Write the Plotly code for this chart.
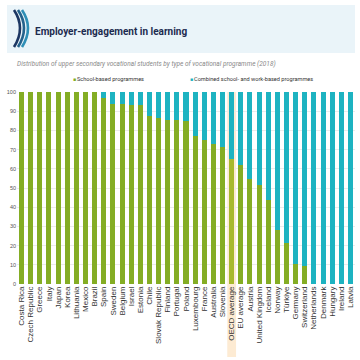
import plotly.graph_objects as go

countries = ["Costa Rica", "Czech Republic", "Greece", "Italy", "Japan", "Korea", "Lithuania",
             "Mexico", "Brazil", "Spain", "Sweden", "Belgium", "Israel", "Estonia", "Chile",
             "Slovak Republic", "Finland", "Portugal", "Poland", "Luxembourg", "France",
             "Australia", "Slovenia", "OECD average", "EU average", "Austria", "United Kingdom",
             "Iceland", "Norway", "Türkiye", "Germany", "Switzerland", "Netherlands", "Denmark",
             "Hungary", "Ireland", "Latvia"]
school_based = [100, 100, 100, 100, 100, 100, 100, 100, 100, 97, 94, 93.5, 93, 93, 87.5,
                86.5, 85.5, 85.5, 85, 77, 74.8, 73, 71.4, 65, 61.8, 54.5, 51.5, 44, 28,
                21.6, 10.4, 9.2, 0, 0, 0, 0, 0]
combined = [round(100 - v, 1) for v in school_based]

GREEN = "#84ad24"
GREEN_HL = "#a7b92e"
TEAL = "#1db3c1"

# plot area in pixels
L, R, T, B = 17, 5, 92, 76
W = H = 360
PW, PH = W - L - R, H - T - B


def px(x, y):
    return (x - L) / PW, (H - B - y) / PH


green_colors = [GREEN_HL if c == "OECD average" else GREEN for c in countries]

fig = go.Figure()
fig.add_trace(go.Bar(x=countries, y=school_based, name="School-based programmes",
                     marker=dict(color=green_colors, line=dict(width=0)), showlegend=False))
fig.add_trace(go.Bar(x=countries, y=combined, name="Combined school- and work-based programmes",
                     marker=dict(color=TEAL, line=dict(width=0)), showlegend=False))

shapes = []
# header band
x0, y0 = px(7, 53)
x1, y1 = px(355, 5)
shapes.append(dict(type="rect", xref="paper", yref="paper", x0=x0, y0=y0, x1=x1, y1=y1,
                   fillcolor="#eaf4f9", line=dict(width=0), layer="below"))
# OECD highlight band
idx = countries.index("OECD average")
n = len(countries)
shapes.append(dict(type="rect", xref="paper", yref="paper",
                   x0=(idx + 0.02) / n, x1=(idx + 0.98) / n,
                   y0=px(0, 357)[1], y1=px(0, 92)[1],
                   fillcolor="#fde6c8", opacity=0.8, line=dict(width=0), layer="below"))
# logo strokes
logo_cols = ["#1d3763", "#25628c", "#2f8fb6"]
for k, off in enumerate([0, 4, 8]):
    sx, sy = px(14 + off, 10)
    cx, cy = px(26 + off, 28)
    ex, ey = px(14 + off, 47)
    shapes.append(dict(type="path", xref="paper", yref="paper",
                       path=f"M {sx},{sy} Q {cx},{cy} {ex},{ey}",
                       line=dict(color=logo_cols[k], width=2.6)))

annotations = []
tx, ty = px(33, 31)
annotations.append(dict(text="<b>Employer-engagement in learning</b>", x=tx, y=ty, xref="paper",
                        yref="paper", xanchor="left", yanchor="middle", showarrow=False,
                        font=dict(family="Roboto", size=10, color="#1c2b4f")))
sx_, sy_ = px(15, 64)
annotations.append(dict(text="<i>Distribution of upper secondary vocational students by type of vocational programme (2018)</i>",
                        x=sx_, y=sy_, xref="paper", yref="paper", xanchor="left",
                        yanchor="middle", showarrow=False,
                        font=dict(family="Roboto", size=6.5, color="#8a8a8a")))
for (lx, col, label) in [(71, GREEN, "School-based programmes"),
                         (188, TEAL, "Combined school- and work-based programmes")]:
    ax, ay = px(lx, 79.5)
    annotations.append(dict(text="■", x=ax, y=ay, xref="paper", yref="paper",
                            xanchor="left", yanchor="middle", showarrow=False,
                            font=dict(size=5, color=col)))
    bx, by = px(lx + 4, 79.5)
    annotations.append(dict(text=label, x=bx, y=by, xref="paper", yref="paper",
                            xanchor="left", yanchor="middle", showarrow=False,
                            font=dict(family="Roboto", size=5.6, color="#333333")))

fig.update_layout(
    barmode="stack", bargap=0.45,
    width=W, height=H, autosize=False,
    margin=dict(l=L, r=R, t=T, b=B, pad=0),
    paper_bgcolor="white", plot_bgcolor="rgba(0,0,0,0)",
    shapes=shapes, annotations=annotations,
    font=dict(family="Liberation Sans"),
    xaxis=dict(tickangle=-90, tickfont=dict(size=8, color="#333333"), showgrid=False,
               tickmode="array", tickvals=countries, ticktext=countries,
               ticks="", showline=False, automargin=False),
    yaxis=dict(range=[0, 100], dtick=10, showgrid=True, gridcolor="#ebebeb", gridwidth=0.6,
               zeroline=False, tickfont=dict(size=5.5, color="#555555"), ticks="",
               showline=False, automargin=False),
)

fig.write_html("out.html", config={"displayModeBar": False},
               post_script="document.body.style.margin='0';")
